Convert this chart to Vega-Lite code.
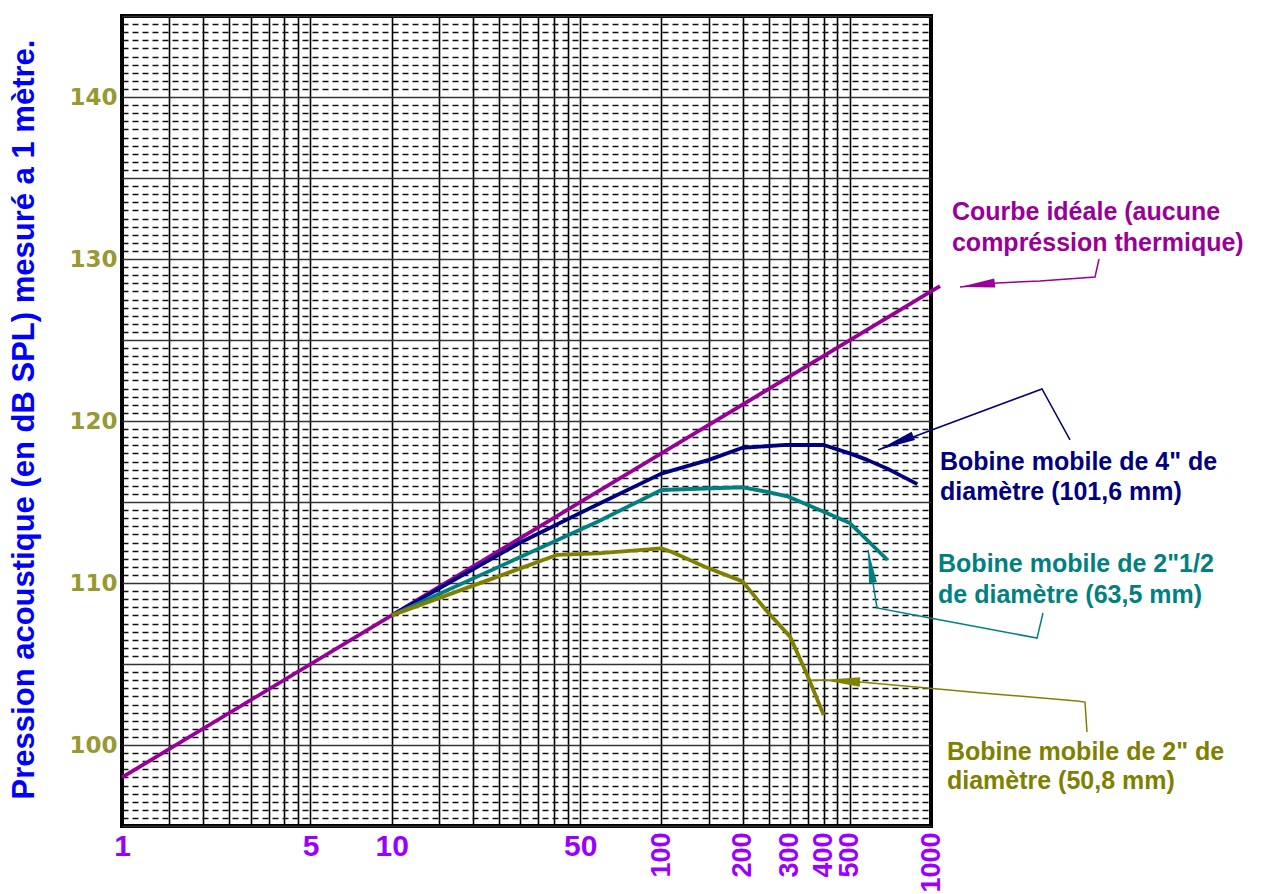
{
  "$schema": "https://vega.github.io/schema/vega-lite/v6.json",
  "width": 809,
  "height": 810,
  "autosize": {"type": "none"},
  "padding": {"left": 122, "top": 16, "right": 332, "bottom": 68},
  "background": "white",
  "config": {"view": {"stroke": "black", "strokeWidth": 4}},
  "datasets": {
    "curves": [
      {"serie": "ideal", "freq": 1, "spl": 98},
      {"serie": "ideal", "freq": 10, "spl": 108},
      {"serie": "ideal", "freq": 100, "spl": 118},
      {"serie": "ideal", "freq": 1000, "spl": 128},
      {"serie": "ideal", "freq": 1080, "spl": 128.33},
      {"serie": "d4", "freq": 10, "spl": 108},
      {"serie": "d4", "freq": 30, "spl": 112.5},
      {"serie": "d4", "freq": 58, "spl": 114.85},
      {"serie": "d4", "freq": 100, "spl": 116.75},
      {"serie": "d4", "freq": 150, "spl": 117.6},
      {"serie": "d4", "freq": 200, "spl": 118.35},
      {"serie": "d4", "freq": 290, "spl": 118.52},
      {"serie": "d4", "freq": 400, "spl": 118.52},
      {"serie": "d4", "freq": 500, "spl": 118.0},
      {"serie": "d4", "freq": 580, "spl": 117.6},
      {"serie": "d4", "freq": 700, "spl": 117.0},
      {"serie": "d4", "freq": 890, "spl": 116.1},
      {"serie": "d25", "freq": 10, "spl": 108},
      {"serie": "d25", "freq": 30, "spl": 111.6},
      {"serie": "d25", "freq": 58, "spl": 113.78},
      {"serie": "d25", "freq": 100, "spl": 115.74},
      {"serie": "d25", "freq": 200, "spl": 115.91},
      {"serie": "d25", "freq": 245, "spl": 115.64},
      {"serie": "d25", "freq": 296, "spl": 115.33},
      {"serie": "d25", "freq": 400, "spl": 114.4},
      {"serie": "d25", "freq": 500, "spl": 113.7},
      {"serie": "d25", "freq": 580, "spl": 112.65},
      {"serie": "d25", "freq": 690, "spl": 111.42},
      {"serie": "d2", "freq": 10, "spl": 108},
      {"serie": "d2", "freq": 41, "spl": 111.73},
      {"serie": "d2", "freq": 58, "spl": 111.83},
      {"serie": "d2", "freq": 100, "spl": 112.14},
      {"serie": "d2", "freq": 110, "spl": 111.9},
      {"serie": "d2", "freq": 145, "spl": 111.0},
      {"serie": "d2", "freq": 200, "spl": 110.1},
      {"serie": "d2", "freq": 245, "spl": 108.3},
      {"serie": "d2", "freq": 300, "spl": 106.69},
      {"serie": "d2", "freq": 345, "spl": 104.44},
      {"serie": "d2", "freq": 400, "spl": 101.85}
    ],
    "leaders": [
      {"serie": "ideal", "i": 0, "freq": 4198, "spl": 130.0},
      {"serie": "ideal", "i": 1, "freq": 4057, "spl": 128.89},
      {"serie": "ideal", "i": 2, "freq": 2536, "spl": 128.64},
      {"serie": "ideal", "i": 3, "freq": 1756, "spl": 128.52},
      {"serie": "ideal", "i": 4, "freq": 1281, "spl": 128.27},
      {"serie": "d4", "i": 0, "freq": 3277, "spl": 118.83},
      {"serie": "d4", "i": 1, "freq": 2580, "spl": 121.98},
      {"serie": "d4", "i": 2, "freq": 636, "spl": 118.21},
      {"serie": "d25", "i": 0, "freq": 2602, "spl": 108.15},
      {"serie": "d25", "i": 1, "freq": 2473, "spl": 106.6},
      {"serie": "d25", "i": 2, "freq": 991.5, "spl": 107.84},
      {"serie": "d25", "i": 3, "freq": 630.6, "spl": 108.46},
      {"serie": "d25", "i": 4, "freq": 609.5, "spl": 110.0},
      {"serie": "d25", "i": 5, "freq": 584.1, "spl": 112.04},
      {"serie": "d2", "i": 0, "freq": 3789, "spl": 100.8},
      {"serie": "d2", "i": 1, "freq": 3724, "spl": 102.65},
      {"serie": "d2", "i": 2, "freq": 3478, "spl": 102.72},
      {"serie": "d2", "i": 3, "freq": 1546, "spl": 103.21},
      {"serie": "d2", "i": 4, "freq": 966.5, "spl": 103.52},
      {"serie": "d2", "i": 5, "freq": 545.3, "spl": 103.89},
      {"serie": "d2", "i": 6, "freq": 397.7, "spl": 104.01},
      {"serie": "d2", "i": 7, "freq": 347, "spl": 104.0}
    ],
    "arrows": [
      {"serie": "ideal", "freq": 1281, "spl": 128.27},
      {"serie": "d4", "freq": 636, "spl": 118.21},
      {"serie": "d25", "freq": 584.1, "spl": 112.04},
      {"serie": "d2", "freq": 397.7, "spl": 104.01}
    ],
    "notes": [
      {"serie": "ideal", "freq": 1196, "spl": 132.9, "label": "Courbe idéale (aucune"},
      {"serie": "ideal", "freq": 1196, "spl": 130.99, "label": "compréssion thermique)"},
      {"serie": "d4", "freq": 1080, "spl": 117.47, "label": "Bobine mobile de 4\" de"},
      {"serie": "d4", "freq": 1080, "spl": 115.62, "label": "diamètre (101,6 mm)"},
      {"serie": "d25", "freq": 1062, "spl": 111.17, "label": "Bobine mobile de 2\"1/2"},
      {"serie": "d25", "freq": 1062, "spl": 109.26, "label": "de diamètre (63,5 mm)"},
      {"serie": "d2", "freq": 1146, "spl": 99.57, "label": "Bobine mobile de 2\" de"},
      {"serie": "d2", "freq": 1146, "spl": 97.78, "label": "diamètre (50,8 mm)"}
    ]
  },
  "encoding": {
    "y": {
      "field": "spl",
      "type": "quantitative",
      "scale": {"domain": [95, 145], "nice": false, "zero": false},
      "axis": {
        "title": "Pression acoustique (en dB SPL) mesuré a 1 mètre.",
        "titleFont": "Liberation Sans",
        "titleFontSize": 31,
        "titleFontWeight": "bold",
        "titleColor": "#0000ff",
        "titleX": -89,
        "titleY": 403,
        "titleAngle": 270,
        "titleAlign": "center",
        "titleBaseline": "alphabetic",
        "values": [95,95.5,96,96.5,97,97.5,98,98.5,99,99.5,100,100.5,101,101.5,102,102.5,103,103.5,104,104.5,105,105.5,106,106.5,107,107.5,108,108.5,109,109.5,110,110.5,111,111.5,112,112.5,113,113.5,114,114.5,115,115.5,116,116.5,117,117.5,118,118.5,119,119.5,120,120.5,121,121.5,122,122.5,123,123.5,124,124.5,125,125.5,126,126.5,127,127.5,128,128.5,129,129.5,130,130.5,131,131.5,132,132.5,133,133.5,134,134.5,135,135.5,136,136.5,137,137.5,138,138.5,139,139.5,140,140.5,141,141.5,142,142.5,143,143.5,144,144.5,145],
        "grid": true,
        "gridColor": {"condition": {"test": "datum.value % 5 === 0", "value": "#333333"}, "value": "#111111"},
        "gridDash": {"condition": {"test": "datum.value % 5 === 0", "value": [1, 0]}, "value": [6, 4]},
        "gridWidth": {"condition": {"test": "datum.value % 5 === 0", "value": 1.6}, "value": 1.5},
        "ticks": false,
        "domain": false,
        "labelExpr": "datum.value % 10 === 0 && datum.value >= 100 && datum.value <= 140 ? '' + datum.value : ''",
        "labelFont": "DejaVu Sans",
        "labelFontSize": 23,
        "labelFontWeight": "bold",
        "labelColor": "#999933",
        "labelPadding": 5,
        "labelOverlap": false,
        "labelFlush": false,
        "labelBound": false
      }
    },
    "color": {
      "field": "serie",
      "type": "nominal",
      "scale": {"domain": ["ideal", "d4", "d25", "d2"], "range": ["#990099", "#000080", "#008080", "#808000"]},
      "legend": null
    }
  },
  "resolve": {"axis": {"x": "independent"}},
  "layer": [
    {
      "data": {"name": "curves"},
      "mark": {"type": "line", "strokeWidth": 3.8, "strokeJoin": "round"},
      "encoding": {
        "x": {
          "field": "freq",
          "type": "quantitative",
          "scale": {"type": "log", "domain": [1, 1000], "nice": false},
          "axis": {
            "orient": "bottom",
            "title": null,
            "values": [1, 1.5, 2, 2.5, 3, 3.5, 4, 4.5, 5, 10, 15, 20, 25, 30, 35, 40, 45, 50, 100, 150, 200, 250, 300, 350, 400, 450, 500, 1000],
            "grid": true,
            "gridColor": "#000000",
            "gridWidth": 1.6,
            "ticks": false,
            "domain": false,
            "labelExpr": "indexof([1,5,10,50], datum.value) >= 0 ? '' + datum.value : ''",
            "labelFont": "Liberation Sans",
            "labelFontSize": 30,
            "labelFontWeight": "bold",
            "labelColor": "#9900ff",
            "labelPadding": 5,
            "labelAlign": "center",
            "labelBaseline": "top",
            "labelOverlap": false,
            "labelFlush": false,
            "labelBound": false
          }
        }
      }
    },
    {
      "data": {"name": "leaders"},
      "mark": {"type": "line", "strokeWidth": 1.5},
      "encoding": {
        "x": {
          "field": "freq",
          "type": "quantitative",
          "axis": {
            "orient": "bottom",
            "title": null,
            "values": [100, 200, 300, 400, 500, 1000],
            "grid": false,
            "ticks": false,
            "domain": false,
            "labelExpr": "'' + datum.value",
            "labelFont": "Liberation Sans",
            "labelFontSize": 27,
            "labelFontWeight": "bold",
            "labelColor": "#9900ff",
            "labelAngle": 270,
            "labelAlign": "right",
            "labelBaseline": "middle",
            "labelPadding": 6,
            "labelOverlap": false,
            "labelFlush": false,
            "labelBound": false
          }
        },
        "order": {"field": "i", "type": "quantitative"}
      }
    },
    {
      "data": {"name": "arrows"},
      "transform": [{"filter": "datum.serie === 'ideal'"}],
      "mark": {"type": "point", "filled": true, "opacity": 1, "shape": "M0,0 L-1,-0.13 L-1,0.13 Z", "size": 4900, "angle": 173.5},
      "encoding": {"x": {"field": "freq", "type": "quantitative", "axis": null}}
    },
    {
      "data": {"name": "arrows"},
      "transform": [{"filter": "datum.serie === 'd4'"}],
      "mark": {"type": "point", "filled": true, "opacity": 1, "shape": "M0,0 L-1,-0.12 L-1,0.12 Z", "size": 5776, "angle": 158.2},
      "encoding": {"x": {"field": "freq", "type": "quantitative", "axis": null}}
    },
    {
      "data": {"name": "arrows"},
      "transform": [{"filter": "datum.serie === 'd25'"}],
      "mark": {"type": "point", "filled": true, "opacity": 1, "shape": "M0,0 L-1,-0.12 L-1,0.12 Z", "size": 4356, "angle": 261.4},
      "encoding": {"x": {"field": "freq", "type": "quantitative", "axis": null}}
    },
    {
      "data": {"name": "arrows"},
      "transform": [{"filter": "datum.serie === 'd2'"}],
      "mark": {"type": "point", "filled": true, "opacity": 1, "shape": "M0,0 L-1,-0.13 L-1,0.13 Z", "size": 5476, "angle": 183},
      "encoding": {"x": {"field": "freq", "type": "quantitative", "axis": null}}
    },
    {
      "data": {"name": "notes"},
      "mark": {"type": "text", "align": "left", "baseline": "middle", "font": "Liberation Sans", "fontSize": 25, "fontWeight": "bold"},
      "encoding": {
        "x": {"field": "freq", "type": "quantitative", "axis": null},
        "text": {"field": "label", "type": "nominal"}
      }
    }
  ]
}
